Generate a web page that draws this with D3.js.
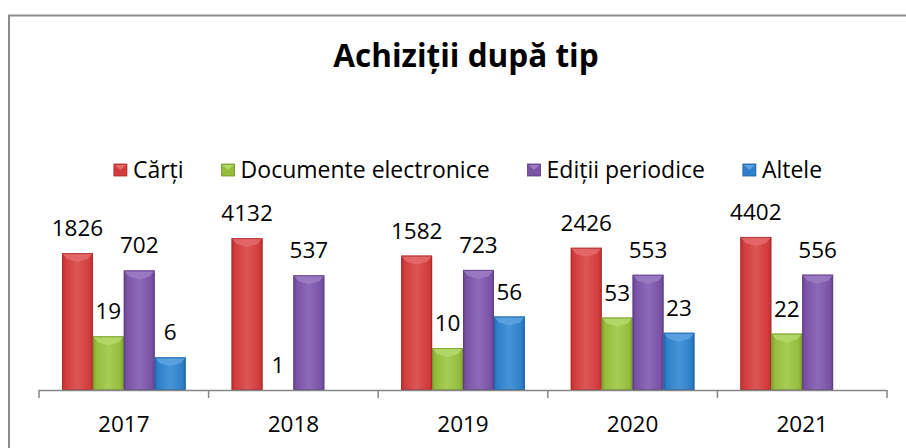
<!DOCTYPE html>
<html>
<head>
<meta charset="utf-8">
<script src="https://cdn.jsdelivr.net/npm/d3@7"></script>
<style>
  body { margin: 0; background: #fff; }
  svg { display: block; font-family: "Open Sans", sans-serif; }
</style>
</head>
<body>
<svg id="chart" width="906" height="448"></svg>
<script>
// data
const years = ['2017', '2018', '2019', '2020', '2021'];
const seriesNames = ['Cărți', 'Documente electronice', 'Ediții periodice', 'Altele'];
const carti = [1826, 4132, 1582, 2426, 4402];
const documente = [19, 1, 10, 53, 22];
const editii = [702, 537, 723, 553, 556];
const altele = [6, null, 56, 23, null];
const colors = ['#d23c3c', '#94bd3d', '#7b53a7', '#2f80ca'];
const darkColors = ['#a62828', '#6f9226', '#5a3a80', '#1d5e9c'];
const lightColors = ['#e56a6a', '#b5d96a', '#9c7cc4', '#5ca3e3'];

const svg = d3.select('#chart');

// outer frame (runs off the right and bottom edges)
svg.append('rect').attr('x', 9).attr('y', 15.5).attr('width', 1000).attr('height', 1000)
    .attr('fill', 'none').attr('stroke', '#8c8c8c').attr('stroke-width', 2);

// title
svg.append('text').attr('x', 466).attr('y', 67).attr('text-anchor', 'middle')
    .attr('font-size', '31.5px').attr('font-weight', 'bold').attr('fill', '#000')
    .text('Achiziții după tip');

// legend
const legend = svg.append('g');
let lx = 0;
seriesNames.forEach((name, i) => {
    const g = legend.append('g').attr('transform', `translate(${lx},0)`);
    g.append('rect').attr('x', 0).attr('y', -14).attr('width', 13).attr('height', 12)
        .attr('fill', colors[i]).attr('stroke', darkColors[i]).attr('stroke-width', 0.8);
    g.append('path').attr('d', 'M1,-13 L12,-13 L6.5,-8 Z').attr('fill', lightColors[i]);
    const t = g.append('text').attr('x', 19).attr('y', 0).attr('font-size', '23px')
        .attr('fill', '#000').text(name);
    lx += 19 + t.node().getComputedTextLength() + 38;
});
lx -= 38;
legend.attr('transform', `translate(${468 - lx / 2},178)`);

// plot area
const x0 = d3.scaleBand().domain(years).range([39, 887]).padding(0);
const x1 = d3.scaleBand().domain(d3.range(4)).range([23, x0.bandwidth() - 23]).padding(0);
const y = d3.scaleLog().domain([1, 10000]).range([390, 222]);

const allSeries = [carti, documente, editii, altele];
const bars = [];
years.forEach((yr, gi) => {
    allSeries.forEach((vals, si) => {
        bars.push({ year: yr, s: si, v: vals[gi] });
    });
});

// gradient per series
const defs = svg.append('defs');
colors.forEach((c, i) => {
    const gr = defs.append('linearGradient').attr('id', 'g' + i)
        .attr('x1', 0).attr('x2', 1).attr('y1', 0).attr('y2', 0);
    gr.append('stop').attr('offset', '0%').attr('stop-color', darkColors[i]);
    gr.append('stop').attr('offset', '12%').attr('stop-color', c);
    gr.append('stop').attr('offset', '50%').attr('stop-color', lightColors[i]).attr('stop-opacity', 1);
    gr.append('stop').attr('offset', '88%').attr('stop-color', c);
    gr.append('stop').attr('offset', '100%').attr('stop-color', darkColors[i]);
});

const barG = svg.append('g');
bars.filter(d => d.v != null && d.v > 1).forEach(d => {
    const bx = x0(d.year) + x1(d.s);
    const bw = x1.bandwidth();
    const by = y(d.v);
    const bh = y(1) - by;
    barG.append('rect').attr('x', bx).attr('y', by).attr('width', bw).attr('height', bh)
        .attr('fill', colors[d.s]);
    barG.append('rect').attr('x', bx).attr('y', by).attr('width', bw).attr('height', bh)
        .attr('fill', `url(#g${d.s})`).attr('opacity', 0.55);
    // bevel at the top
    barG.append('path')
        .attr('d', `M${bx},${by} L${bx + bw},${by} L${bx + bw - 5},${by + 6} L${bx + bw / 2},${by + 9} L${bx + 5},${by + 6} Z`)
        .attr('fill', lightColors[d.s]).attr('opacity', 0.85);
    barG.append('rect').attr('x', bx + 0.5).attr('y', by + 0.5).attr('width', bw - 1).attr('height', bh - 1)
        .attr('fill', 'none').attr('stroke', darkColors[d.s]).attr('stroke-width', 1).attr('opacity', 0.7);
});

// value labels
svg.append('g').selectAll('text')
    .data(bars.filter(d => d.v != null))
    .join('text')
    .attr('x', d => x0(d.year) + x1(d.s) + x1.bandwidth() / 2)
    .attr('y', d => y(d.v) - 17)
    .attr('text-anchor', 'middle')
    .attr('font-size', '22.5px')
    .attr('fill', '#000')
    .text(d => d.v);

// category axis
const axis = svg.append('g').attr('transform', 'translate(0,390)');
axis.append('line').attr('x1', 39).attr('x2', 887).attr('y1', 0.5).attr('y2', 0.5)
    .attr('stroke', '#868686').attr('stroke-width', 1.5);
axis.selectAll('line.tick')
    .data(years.map(yr => x0(yr)).concat([x0.range()[1]]))
    .join('line').attr('class', 'tick')
    .attr('x1', d => d).attr('x2', d => d).attr('y1', 0).attr('y2', 8)
    .attr('stroke', '#868686').attr('stroke-width', 1.5);
axis.selectAll('text')
    .data(years)
    .join('text')
    .attr('x', d => x0(d) + x0.bandwidth() / 2)
    .attr('y', 42)
    .attr('text-anchor', 'middle')
    .attr('font-size', '22.5px')
    .attr('fill', '#000')
    .text(d => d);
</script>
</body>
</html>
